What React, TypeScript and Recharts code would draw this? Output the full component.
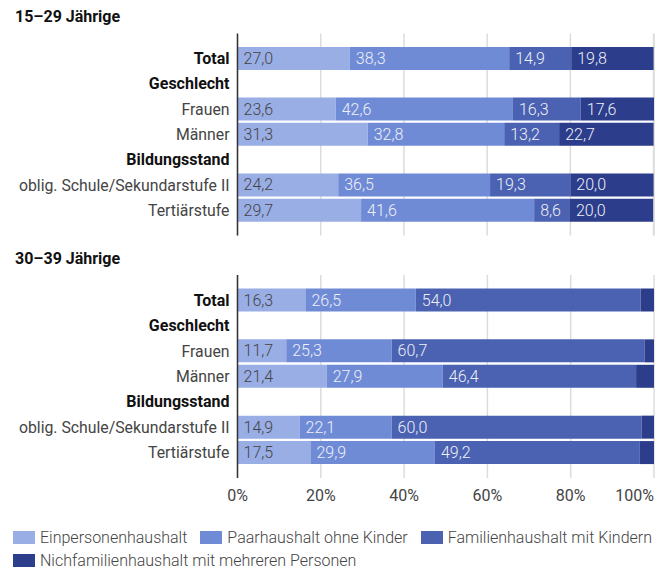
import { BarChart, Bar, XAxis, YAxis, CartesianGrid, LabelList } from "recharts"

const categories = [
  "Total",
  "Geschlecht",
  "Frauen",
  "Männer",
  "Bildungsstand",
  "oblig. Schule/Sekundarstufe II",
  "Tertiärstufe",
]
const boldRows = ["Total", "Geschlecht", "Bildungsstand"]
const seriesNames = [
  "Einpersonenhaushalt",
  "Paarhaushalt ohne Kinder",
  "Familienhaushalt mit Kindern",
  "Nichfamilienhaushalt mit mehreren Personen",
]
const colors = ["#9aaee6", "#708bd6", "#4a62b1", "#2b3d8b"]
const xTicks = [0, 20, 40, 60, 80, 100]

// 15–29 Jährige
const youngEin = [27.0, null, 23.6, 31.3, null, 24.2, 29.7]
const youngPaar = [38.3, null, 42.6, 32.8, null, 36.5, 41.6]
const youngFam = [14.9, null, 16.3, 13.2, null, 19.3, 8.6]
const youngNich = [19.8, null, 17.6, 22.7, null, 20.0, 20.0]

// 30–39 Jährige
const olderEin = [16.3, null, 11.7, 21.4, null, 14.9, 17.5]
const olderPaar = [26.5, null, 25.3, 27.9, null, 22.1, 29.9]
const olderFam = [54.0, null, 60.7, 46.4, null, 60.0, 49.2]
const olderNich = [3.2, null, 2.3, 4.3, null, 3.0, 3.4]

const font = "Roboto, sans-serif"

function buildRows(cols: (number | null)[][]) {
  return categories.map((label, i) => ({
    label,
    s0: cols[0][i],
    s1: cols[1][i],
    s2: cols[2][i],
    s3: cols[3][i],
  }))
}

const youngRows = buildRows([youngEin, youngPaar, youngFam, youngNich])
const olderRows = buildRows([olderEin, olderPaar, olderFam, olderNich])

const CategoryTick = (props: any) => {
  const { x, y, payload } = props
  const bold = boldRows.includes(payload.value)
  return (
    <text
      x={x}
      y={y}
      dy={5.5}
      textAnchor="end"
      fontFamily={font}
      fontSize={bold ? 16 : 15.8}
      fontWeight={bold ? 700 : 400}
      fill={bold ? "#111" : "#444"}
    >
      {payload.value}
    </text>
  )
}

const PercentTick = (props: any) => {
  const { x, y, payload } = props
  return (
    <text
      x={x}
      y={y}
      dy={15}
      textAnchor={payload.value === 100 ? "end" : "middle"}
      fontFamily={font}
      fontSize={16}
      fill="#444"
    >
      {payload.value}%
    </text>
  )
}

const valueLabel = (dark: boolean) => (props: any) => {
  const { x, y, height, value } = props
  if (value == null || value < 5) return null
  return (
    <text
      x={x + 6}
      y={y + height / 2}
      dy={5.5}
      fontFamily={font}
      fontSize={16}
      fontWeight={300}
      fill={dark ? "#444" : "#eef0f8"}
    >
      {Number(value).toFixed(1).replace(".", ",")}
    </text>
  )
}

function Panel({
  data,
  height,
  margin,
  showAxis,
}: {
  data: any[]
  height: number
  margin: any
  showAxis: boolean
}) {
  return (
    <BarChart
      width={672}
      height={height}
      data={data}
      layout="vertical"
      margin={margin}
      barSize={23}
    >
      <CartesianGrid horizontal={false} stroke="#dcdcdc" strokeWidth={1.5} />
      <XAxis
        type="number"
        domain={[0, 100]}
        ticks={xTicks}
        hide={!showAxis}
        axisLine={false}
        tickLine={false}
        height={30}
        tick={<PercentTick />}
        interval={0}
      />
      <YAxis
        type="category"
        dataKey="label"
        width={237.5}
        axisLine={{ stroke: "#333", strokeWidth: 1.5 }}
        tickLine={false}
        tick={<CategoryTick />}
        interval={0}
        padding={{ top: 12.5, bottom: 12.5 }}
      />
      {["s0", "s1", "s2", "s3"].map((key, i) => (
        <Bar
          key={key}
          dataKey={key}
          name={seriesNames[i]}
          stackId="a"
          fill={colors[i]}
          isAnimationActive={false}
        >
          <LabelList dataKey={key} content={valueLabel(i === 0)} />
        </Bar>
      ))}
    </BarChart>
  )
}

const titleStyle: React.CSSProperties = {
  position: "absolute",
  left: 15,
  fontFamily: font,
  fontSize: 16,
  fontWeight: 700,
  color: "#111",
  lineHeight: "18px",
}

export default function App() {
  return (
    <div
      style={{
        position: "absolute",
        left: 0,
        top: 0,
        width: 672,
        height: 570,
        background: "#fff",
        fontFamily: font,
      }}
    >
      <div style={{ position: "absolute", left: 0, top: 0 }}>
        <Panel
          data={youngRows}
          height={240}
          margin={{ top: 33.5, right: 18, bottom: 4.5, left: 0 }}
          showAxis={false}
        />
      </div>
      <div style={{ position: "absolute", left: 0, top: 240 }}>
        <Panel
          data={olderRows}
          height={280}
          margin={{ top: 35, right: 18, bottom: 12, left: 0 }}
          showAxis={true}
        />
      </div>
      <div style={{ ...titleStyle, top: 8 }}>15–29 Jährige</div>
      <div style={{ ...titleStyle, top: 250 }}>30–39 Jährige</div>
      <div
        style={{
          position: "absolute",
          left: 13,
          top: 528,
          width: 659,
          display: "flex",
          flexWrap: "wrap",
          rowGap: 4,
          fontSize: 16,
          fontWeight: 300,
          color: "#444",
          lineHeight: "19px",
        }}
      >
        {seriesNames.map((name, i) => (
          <div
            key={name}
            style={{ display: "flex", alignItems: "center", marginRight: 13 }}
          >
            <span
              style={{
                display: "inline-block",
                width: 22,
                height: 13,
                background: colors[i],
                marginRight: 5,
              }}
            />
            <span>{name}</span>
          </div>
        ))}
      </div>
    </div>
  )
}
